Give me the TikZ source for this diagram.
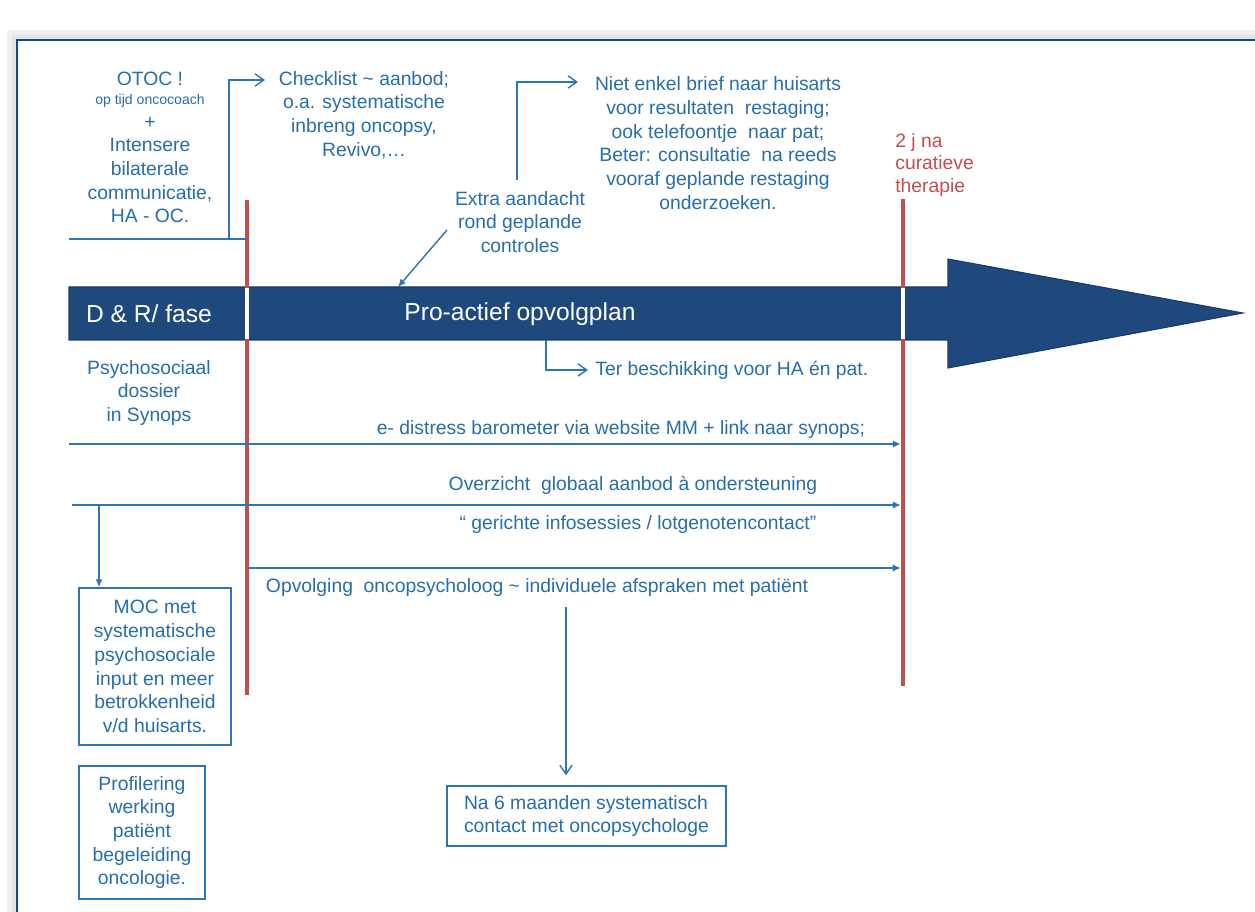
\documentclass[tikz,border=0pt]{standalone}
\usepackage{fontspec}
\setmainfont{Liberation Sans}
\usetikzlibrary{arrows.meta,calc}
\definecolor{tblue}{RGB}{40,110,170}
\definecolor{lblue}{RGB}{46,117,182}
\definecolor{navy}{RGB}{31,73,125}
\definecolor{rred}{RGB}{192,80,77}
\definecolor{frameblue}{RGB}{20,70,150}
\begin{document}
\begin{tikzpicture}[x=0.02cm,y=-0.02cm,
 txt/.style={text=tblue,font=\fontsize{11}{13.5}\selectfont,align=center,inner sep=0pt},
 wtxt/.style={text=white,font=\fontsize{14}{16}\selectfont,inner sep=0pt},
 rtxt/.style={text=rred,font=\fontsize{11}{12.8}\selectfont,align=left,inner sep=0pt},
 conn/.style={draw=lblue,line width=0.8pt},
 openarr/.style={conn,-{Straight Barb[length=5pt,width=7pt]}},
 fillarr/.style={conn,-{Latex[length=4.5pt,width=4pt]}},
 boxnode/.style={txt,draw=lblue,line width=0.9pt},
 redline/.style={draw=rred,line width=2.3pt},
]
\useasboundingbox[fill=white] (0,0) rectangle (1255,912);
% frame with soft shadow
\draw[black!6, line width=5pt] (11,912) -- (11,34) -- (1255,34);
\draw[black!10, line width=2pt] (14,912) -- (14,37) -- (1255,37);
\draw[frameblue, line width=1.7pt] (17,912) -- (17,40) -- (1255,40);

% main arrow
\filldraw[fill=navy, draw=navy!80!black, line width=0.6pt]
  (69,287) -- (948,287) -- (948,259) -- (1243,313) -- (948,368) -- (948,340) -- (69,340) -- cycle;

% red time lines
\coordinate (r1top) at (247,200); \coordinate (r1bot) at (247,695);
\coordinate (r2top) at (903,199); \coordinate (r2bot) at (903,686);
\draw[redline] (r1top) -- (r1bot);
\draw[redline] (r2top) -- (r2bot);
\draw[white, line width=2.3pt] (247,288) -- (247,339);
\draw[white, line width=2.3pt] (903,288) -- (903,339);

% texts
\node[txt,anchor=north] (otoc) at (150,72) {OTOC !\\[-3pt]{\fontsize{8}{9}\selectfont op tijd oncocoach}\\+\\Intensere\\bilaterale\\communicatie,\\HA - OC.};
\node[txt] (check) at (364,115) {Checklist \textasciitilde{} aanbod;\\o.a. systematische\\inbreng oncopsy,\\Revivo,\ldots};
\node[txt] (niet) at (718,143) {Niet enkel brief naar huisarts\\voor resultaten\ \ restaging;\\ook telefoontje\ \ naar pat;\\Beter: consultatie\ \ na reeds\\vooraf geplande restaging\\onderzoeken.};
\node[txt] (extra) at (520,222) {Extra aandacht\\rond geplande\\controles};
\node[rtxt,anchor=west] (twoj) at (895,165) {2 j na\\curatieve\\therapie};
\node[wtxt] (dr) at (149,314) {D \& R/ fase};
\node[wtxt] (pro) at (520,314) {Pro-actief opvolgplan};
\node[txt] (psy) at (149,393) {Psychosociaal\\dossier\\in Synops};
\node[txt,anchor=west] (ter) at (595,370) {Ter beschikking voor HA én pat.};
\node[txt] (dist) at (621,430) {e- distress barometer via website MM + link naar synops;};
\node[txt] (overz) at (633,485) {Overzicht\ \ globaal aanbod à ondersteuning};
\node[txt] (ger) at (638,525) {“ gerichte infosessies / lotgenotencontact”};
\node[txt] (opv) at (537,588) {Opvolging\ \ oncopsycholoog \textasciitilde{} individuele afspraken met patiënt};

% boxes
\node[boxnode, minimum width=3.04cm, minimum height=3.14cm] (moc) at (155,666.5)
  {MOC met\\systematische\\psychosociale\\input en meer\\betrokkenheid\\v/d huisarts.};
\node[boxnode, minimum width=2.52cm, minimum height=2.66cm] (prof) at (142,832.5)
  {Profilering\\werking\\patiënt\\begeleiding\\oncologie.};
\node[boxnode, align=left, minimum width=5.58cm, minimum height=1.2cm] (na6) at (586.5,816)
  {Na 6 maanden systematisch\\contact met oncopsychologe};

% connectors
\coordinate (h0) at (69,239);
\draw[conn] (h0) -- (h0 -| r1top);
\coordinate (ck0) at (229,239); \coordinate (ck1) at (265,80);
\draw[openarr] (ck0) |- (ck1);
\coordinate (ex0) at (517,180); \coordinate (ex1) at (578,82);
\draw[openarr] (ex0) |- (ex1);
\coordinate (ex2) at (447,230); \coordinate (bd1) at (398,287);
\draw[fillarr] (ex2) -- (bd1);
\coordinate (bd2) at (546,340);
\draw[openarr] (bd2) |- ([xshift=-4pt]ter.west);

\coordinate (a1) at (69,444);
\coordinate (a2) at (72,505);
\coordinate (a3) at (249,568);
\draw[fillarr, shorten >=1.2pt] (a1) -- (a1 -| r2top);
\draw[fillarr, shorten >=1.2pt] (a2) -- (a2 -| r2top);
\draw[fillarr, shorten >=1.2pt] (a3) -- (a3 -| r2top);

\coordinate (d1) at (99,506);
\draw[fillarr] (d1) -- (d1 |- moc.north);
\coordinate (d2) at (566,607);
\draw[openarr] (d2) -- ($(d2 |- na6.north)+(0,-10)$);
\end{tikzpicture}
\end{document}
